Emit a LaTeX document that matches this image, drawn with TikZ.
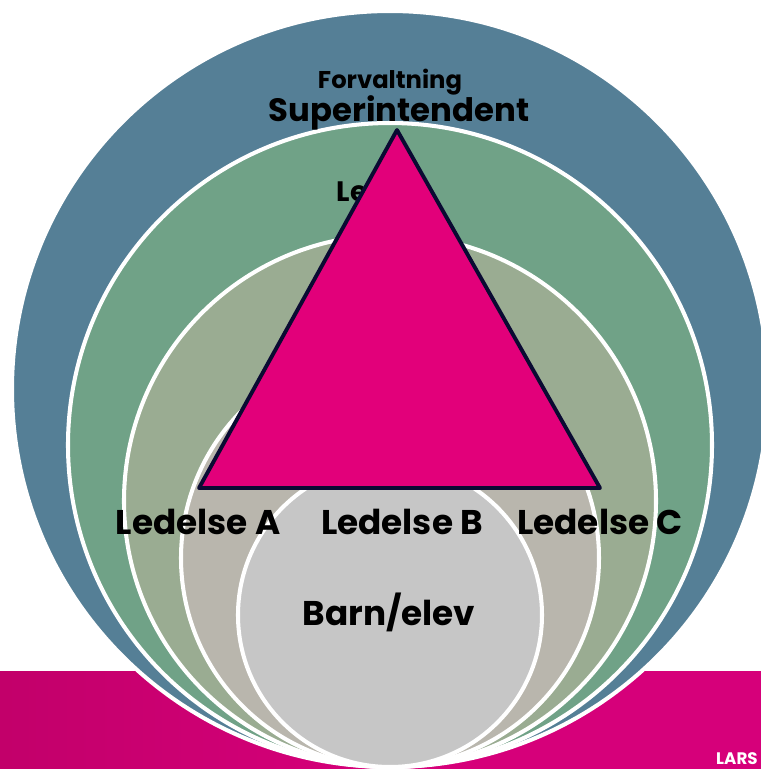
\documentclass[tikz,border=0pt]{standalone}
\usepackage{fontspec}
\setmainfont{Poppins}
\usepackage{tikz}
\usetikzlibrary{positioning}

\definecolor{forvblue}{HTML}{557F96}
\definecolor{ledgreen}{HTML}{70A287}
\definecolor{sage}{HTML}{9AAC92}
\definecolor{beige}{HTML}{B9B6AD}
\definecolor{elevgray}{HTML}{C6C6C6}
\definecolor{pyramid}{HTML}{E2007A}
\definecolor{navy}{HTML}{0A0A32}
\definecolor{banddark}{HTML}{C2006A}
\definecolor{bandlight}{HTML}{D6007A}

\tikzset{
  ring/.style={draw=white,line width=2.3pt},
  lbl/.style={font=\bfseries\fontsize{19.5}{22}\selectfont,inner sep=0pt}
}

\begin{document}
\begin{tikzpicture}[x=0.02cm,y=-0.02cm]
\useasboundingbox (0,0) rectangle (761,769);
% slide band
\shade[left color=banddark,right color=bandlight,middle color=bandlight] (0,671) rectangle (761,769);
\node[anchor=east,text=white,font=\bfseries\fontsize{9.5}{11}\selectfont,inner sep=0pt] (lars) at (758,759) {LARS};
% levels, all touching at the bottom
\foreach \r/\c in {378/forvblue,322/ledgreen,266/sage,209/beige,152/elevgray}{
\fill[\c,ring] (390,767-\r) circle[radius=\r];
}
\node[lbl,font=\bfseries\fontsize{16}{18}\selectfont] (le) at (352,192) {Le};
% pyramid
\coordinate (top) at (397,130);
\coordinate (bl) at (199,488);
\coordinate (br) at (600,488);
\filldraw[fill=pyramid,draw=navy,line width=2.2pt,line join=round] (top) -- (bl) -- (br) -- cycle;
\node[lbl,font=\bfseries\fontsize{13.8}{16}\selectfont] (forv) at (390,82) {Forvaltning};
\node[lbl,font=\bfseries\fontsize{18.4}{21}\selectfont] (sup) at (399,113) {Superintendent};
\node[lbl] (leda) at (198,522) {Ledelse A};
\node[lbl] (ledb) at (402,522) {Ledelse B};
\node[lbl] (ledc) at (600,522) {Ledelse C};
\node[lbl] (barn) at (389,612) {Barn/elev};
\end{tikzpicture}
\end{document}
